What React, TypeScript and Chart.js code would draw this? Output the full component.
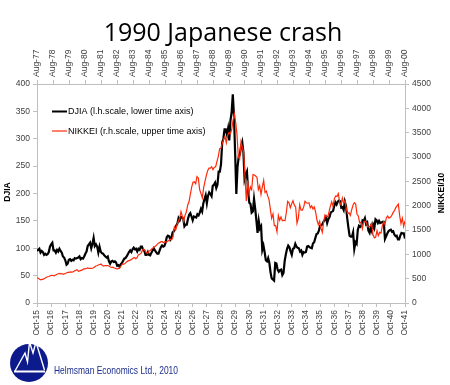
import { useEffect, useRef } from 'react';
import { Chart, registerables } from 'chart.js';
Chart.register(...registerables);

// DJIA monthly, Oct 1915 .. Oct 1941 (lower time axis, left scale)
const djiaStart = 1915 + 9 / 12;
const djiaMonthly = [
  95, 97, 99,
  92, 95, 93, 88, 90, 88, 89, 93, 103, 107, 110, 96,
  96, 92, 97, 94, 99, 95, 92, 85, 83, 78, 70, 72,
  79, 80, 77, 79, 78, 82, 81, 82, 83, 85, 80, 82,
  81, 85, 90, 94, 104, 107, 110, 100, 108, 119, 104, 107,
  103, 92, 103, 94, 91, 90, 87, 85, 83, 85, 76, 72,
  76, 77, 75, 76, 74, 68, 69, 66, 71, 73, 77, 81,
  82, 85, 89, 93, 96, 93, 98, 101, 98, 99, 94, 99,
  97, 103, 103, 97, 95, 88, 88, 93, 88, 87, 92, 96,
  100, 96, 93, 90, 90, 96, 102, 105, 103, 104, 110, 120,
  123, 122, 116, 120, 129, 131, 136, 141, 145, 155, 151, 157,
  157, 154, 140, 143, 143, 154, 161, 164, 158, 151, 158, 157,
  156, 162, 160, 165, 172, 167, 182, 190, 197, 182, 196, 202,
  199, 195, 214, 216, 220, 210, 216, 240, 240, 253, 293, 300,
  317, 317, 308, 319, 297, 333, 348, 381, 343, 273, 199, 248,
  267, 272, 286, 294, 275, 226, 234, 240, 204, 183, 181, 165,
  167, 190, 172, 151, 128, 150, 136, 140, 97, 105, 93, 78,
  76, 82, 73, 56, 45, 43, 41, 73, 72, 61, 57, 60,
  61, 51, 55, 77, 89, 99, 105, 102, 94, 88, 99, 100,
  108, 103, 101, 100, 94, 96, 88, 93, 92, 93, 103, 104,
  102, 101, 100, 109, 111, 119, 126, 127, 132, 141, 142, 144,
  149, 152, 156, 146, 153, 157, 165, 167, 168, 177, 184, 180,
  185, 187, 186, 174, 175, 170, 185, 177, 155, 138, 123, 121,
  121, 129, 99, 111, 108, 134, 141, 139, 141, 151, 150, 155,
  144, 147, 132, 128, 138, 131, 143, 137, 153, 151, 146, 150,
  146, 147, 148, 148, 117, 122, 127, 131, 133, 134, 130, 131,
  125, 122, 123, 116, 116, 123, 128, 127, 127, 118,
];

// NIKKEI / 10 monthly, Aug 1977 .. Aug 2000 (upper time axis, right scale)
const nikkeiStart = 1977 + 7 / 12;
const nikkeiMonthly = [
  520, 510, 490, 475, 487,
  495, 510, 530, 540, 545, 560, 570, 565, 560, 575, 590, 600,
  610, 600, 600, 590, 605, 615, 630, 630, 640, 635, 640, 657,
  670, 685, 650, 660, 670, 680, 700, 700, 710, 720, 710, 712,
  710, 720, 735, 760, 765, 780, 790, 800, 770, 760, 770, 768,
  770, 760, 740, 730, 735, 720, 710, 700, 705, 725, 760, 800,
  800, 810, 840, 860, 870, 880, 900, 920, 935, 910, 930, 989,
  1000, 1020, 1080, 1110, 1080, 1030, 1020, 1070, 1080, 1110, 1130, 1154,
  1170, 1200, 1230, 1240, 1260, 1260, 1240, 1260, 1250, 1270, 1290, 1311,
  1300, 1360, 1560, 1500, 1610, 1680, 1740, 1880, 1780, 1680, 1800, 1870,
  2010, 2080, 2230, 2380, 2480, 2490, 2450, 2600, 2570, 2330, 2250, 2160,
  2370, 2500, 2620, 2720, 2770, 2770, 2800, 2740, 2790, 2800, 2910, 3016,
  3170, 3180, 3280, 3370, 3420, 3290, 3450, 3500, 3480, 3560, 3750, 3892,
  3720, 3460, 2998, 2960, 3310, 3190, 3100, 2598, 2098, 2520, 2245, 2385,
  2330, 2640, 2630, 2610, 2580, 2330, 2410, 2230, 2390, 2520, 2270, 2298,
  2200, 2130, 1930, 1740, 1830, 1590, 1590, 1460, 1800, 1700, 1770, 1692,
  1700, 1690, 1860, 2090, 2060, 1960, 2038, 2100, 2010, 1970, 1640, 1742,
  2023, 1910, 1910, 1970, 2090, 2060, 2050, 2060, 1956, 1999, 1930, 1972,
  1865, 1700, 1610, 1680, 1540, 1450, 1670, 1810, 1790, 1765, 1870, 1987,
  2080, 1990, 2140, 2200, 2190, 2250, 2070, 2016, 2156, 2047, 2102, 1936,
  1833, 1856, 1800, 1915, 2007, 2060, 2033, 1823, 1789, 1646, 1663, 1526,
  1663, 1683, 1653, 1564, 1567, 1583, 1638, 1410, 1340, 1356, 1488, 1384,
  1450, 1437, 1584, 1670, 1611, 1753, 1786, 1744, 1760, 1794, 1856, 1893,
  1954, 1996, 2034, 1797, 1633, 1741, 1573, 1686,
];

const lowerTickLabels = [
  'Oct-15', 'Oct-16', 'Oct-17', 'Oct-18', 'Oct-19', 'Oct-20', 'Oct-21', 'Oct-22', 'Oct-23',
  'Oct-24', 'Oct-25', 'Oct-26', 'Oct-27', 'Oct-28', 'Oct-29', 'Oct-30', 'Oct-31', 'Oct-32',
  'Oct-33', 'Oct-34', 'Oct-35', 'Oct-36', 'Oct-37', 'Oct-38', 'Oct-39', 'Oct-40', 'Oct-41',
];
const upperTickLabels = [
  'Aug-77', 'Aug-78', 'Aug-79', 'Aug-80', 'Aug-81', 'Aug-82', 'Aug-83', 'Aug-84', 'Aug-85',
  'Aug-86', 'Aug-87', 'Aug-88', 'Aug-89', 'Aug-90', 'Aug-91', 'Aug-92', 'Aug-93', 'Aug-94',
  'Aug-95', 'Aug-96', 'Aug-97', 'Aug-98', 'Aug-99', 'Aug-00',
];

const titleText = '1990 Japanese crash';
const djiaLabel = 'DJIA (l.h.scale, lower time axis)';
const nikkeiLabel = 'NIKKEI (r.h.scale, upper time axis)';
const leftAxisTitle = 'DJIA';
const rightAxisTitle = 'NIKKEI/10';
const footerText = 'Helmsman Economics Ltd., 2010';

const AXIS = '#bfbfbf';
const TICK = '#404040';
const SANS = '"Liberation Sans", Arial, sans-serif';
const TICK_FONT_SIZE = 8.5;

const decor = {
  id: 'decor',
  afterDraw(chart: any) {
    const ctx = chart.ctx as CanvasRenderingContext2D;
    ctx.save();
    // title
    ctx.fillStyle = '#000';
    ctx.font = '25px "Open Sans", sans-serif';
    ctx.textAlign = 'center';
    ctx.textBaseline = 'alphabetic';
    ctx.fillText(titleText, 223, 41);

    // upper time-axis labels, centred on the x2 scale's ticks
    const x2 = chart.scales.x2;
    ctx.fillStyle = TICK;
    ctx.font = `${TICK_FONT_SIZE}px ${SANS}`;
    ctx.textAlign = 'left';
    ctx.textBaseline = 'middle';
    x2.ticks.forEach((t: any, i: number) => {
      const px = x2.getPixelForValue(t.value);
      ctx.save();
      ctx.translate(px, x2.bottom - 7);
      ctx.rotate(-Math.PI / 2);
      ctx.fillText(upperTickLabels[i], 0, 0);
      ctx.restore();
    });

    // axis titles
    ctx.fillStyle = '#000';
    ctx.font = `bold 8.5px ${SANS}`;
    ctx.textAlign = 'center';
    ctx.textBaseline = 'middle';
    ctx.save();
    ctx.translate(8, 192);
    ctx.rotate(-Math.PI / 2);
    ctx.fillText(leftAxisTitle, 0, 0);
    ctx.restore();
    ctx.save();
    ctx.translate(442, 193);
    ctx.rotate(-Math.PI / 2);
    ctx.fillText(rightAxisTitle, 0, 0);
    ctx.restore();

    // legend
    ctx.textAlign = 'left';
    ctx.font = `9px ${SANS}`;
    ctx.strokeStyle = '#000';
    ctx.lineWidth = 2;
    ctx.beginPath();
    ctx.moveTo(52, 111.5);
    ctx.lineTo(67, 111.5);
    ctx.stroke();
    ctx.fillStyle = '#000';
    ctx.fillText(djiaLabel, 68, 112);
    ctx.strokeStyle = '#ff2a0a';
    ctx.lineWidth = 1.2;
    ctx.beginPath();
    ctx.moveTo(52, 131);
    ctx.lineTo(67, 131);
    ctx.stroke();
    ctx.fillText(nikkeiLabel, 68, 131.5);

    // logo
    ctx.fillStyle = '#0c1a8c';
    ctx.beginPath();
    ctx.arc(29, 363, 19, 0, Math.PI * 2);
    ctx.fill();
    ctx.strokeStyle = '#fff';
    ctx.lineWidth = 1.4;
    ctx.beginPath();
    ctx.moveTo(15, 371);
    ctx.lineTo(25, 353);
    ctx.lineTo(27.5, 362);
    ctx.lineTo(29.5, 342);
    ctx.lineTo(33, 353);
    ctx.lineTo(36, 342);
    ctx.lineTo(44.5, 370);
    ctx.stroke();
    ctx.fillStyle = '#fff';
    ctx.fillRect(14, 370.5, 31, 2);

    ctx.fillStyle = '#1b2d8c';
    ctx.font = `10.5px ${SANS}`;
    ctx.textBaseline = 'alphabetic';
    const w = ctx.measureText(footerText).width;
    ctx.translate(54, 374);
    ctx.scale(124 / w, 1);
    ctx.fillText(footerText, 0, 0);
    ctx.restore();
  },
};

export default function App() {
  const ref = useRef<HTMLCanvasElement>(null);
  useEffect(() => {
    if (!ref.current) return;
    const tickFont = { family: SANS, size: TICK_FONT_SIZE };
    const chart = new Chart(ref.current, {
      type: 'line',
      data: {
        datasets: [
          {
            label: djiaLabel,
            data: djiaMonthly.map((v, i) => ({ x: djiaStart + i / 12, y: v })),
            xAxisID: 'x',
            yAxisID: 'y',
            borderColor: '#000',
            borderWidth: 2.2,
            pointRadius: 0,
            tension: 0,
            order: 1,
          },
          {
            label: nikkeiLabel,
            data: nikkeiMonthly.map((v, i) => ({ x: nikkeiStart + i / 12, y: v })),
            xAxisID: 'x2',
            yAxisID: 'y2',
            borderColor: '#ff2a0a',
            borderWidth: 1.2,
            pointRadius: 0,
            tension: 0,
            order: 0,
          },
        ],
      },
      options: {
        animation: false,
        responsive: false,
        events: [],
        layout: { padding: 0 },
        plugins: { legend: { display: false }, title: { display: false }, tooltip: { enabled: false } },
        scales: {
          x: {
            type: 'linear',
            position: 'bottom',
            min: djiaStart,
            max: djiaStart + lowerTickLabels.length - 1,
            afterBuildTicks: (s: any) => {
              s.ticks = lowerTickLabels.map((_, i) => ({ value: djiaStart + i }));
            },
            afterFit: (s: any) => { s.height = 82; },
            ticks: {
              autoSkip: false,
              minRotation: 90,
              maxRotation: 90,
              padding: 3,
              color: TICK,
              font: tickFont,
              callback: (_v: any, i: number) => lowerTickLabels[i],
            },
            grid: { drawOnChartArea: false, tickLength: 4, color: AXIS },
            border: { color: AXIS },
          },
          x2: {
            type: 'linear',
            position: 'top',
            min: nikkeiStart,
            max: nikkeiStart + upperTickLabels.length - 1,
            afterBuildTicks: (s: any) => {
              s.ticks = upperTickLabels.map((_, i) => ({ value: nikkeiStart + i }));
            },
            afterFit: (s: any) => { s.height = 84; },
            ticks: { display: false, autoSkip: false },
            grid: { drawOnChartArea: false, tickLength: 4, color: AXIS },
            border: { color: AXIS },
          },
          y: {
            type: 'linear',
            position: 'left',
            min: 0,
            max: 400,
            afterFit: (s: any) => { s.width = 37; },
            ticks: { stepSize: 50, padding: 3, color: TICK, font: tickFont, callback: (v: any) => String(v) },
            grid: { drawOnChartArea: false, tickLength: 4, color: AXIS },
            border: { color: AXIS },
          },
          y2: {
            type: 'linear',
            position: 'right',
            min: 0,
            max: 4500,
            afterFit: (s: any) => { s.width = 45; },
            ticks: { stepSize: 500, padding: 3, color: TICK, font: tickFont, callback: (v: any) => String(v) },
            grid: { drawOnChartArea: false, tickLength: 4, color: AXIS },
            border: { color: AXIS },
          },
        },
      },
      plugins: [decor],
    } as any);
    return () => chart.destroy();
  }, []);
  return (
    <div style={{ position: 'absolute', left: 0, top: 0, width: 450, height: 385, background: '#fff' }}>
      <canvas ref={ref} width={450} height={385} style={{ display: 'block' }} />
    </div>
  );
}
